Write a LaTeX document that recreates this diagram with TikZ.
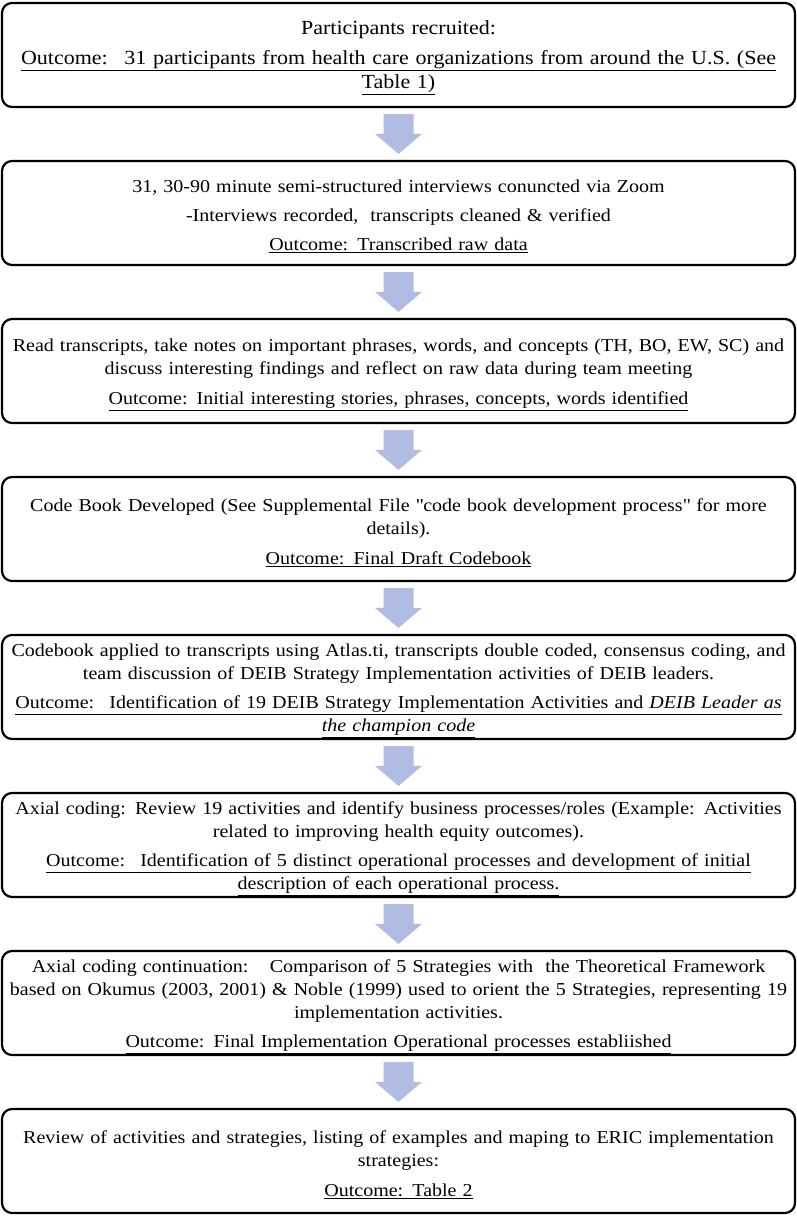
\documentclass[tikz,border=0pt]{standalone}
\usepackage{fontspec}
\setmainfont{Liberation Serif}[FakeStretch=1.1]
\usetikzlibrary{positioning, calc}
\definecolor{flowblue}{RGB}{176,188,226}
\newcommand{\Outcome}[1]{\underline{#1}}
% block arrow from the bottom of one stage to the top of the next
\newcommand{\FlowArrow}[2]{%
  \fill[flowblue] ($(#1.south)+(-15pt,-6pt)$) -- ($(#1.south)+(15pt,-6pt)$)
    -- ($(#2.north)+(15pt,26pt)$) -- ($(#2.north)+(23.5pt,26pt)$)
    -- ($(#2.north)+(0,6pt)$)
    -- ($(#2.north)+(-23.5pt,26pt)$) -- ($(#2.north)+(-15pt,26pt)$) -- cycle;}
\tikzset{
    stage/.style={draw, line width=2.2pt, rounded corners=10pt, minimum width=793pt,
      minimum height=104pt, text width=788pt, align=center, inner sep=0pt,
      font=\fontsize{18.2}{23}\selectfont, execute at begin node={\rule{0pt}{20pt}}},
    bigstage/.style={stage, font=\fontsize{20}{24}\selectfont},
}

\begin{document}
\begin{tikzpicture}
    \tikzset{node distance=51.8pt}
    \useasboundingbox (0,0) rectangle (797pt,-1216pt);

    \node[bigstage] (recruit) at (398.5pt,-55pt) {Participants recruited:\\[6pt]
      \Outcome{Outcome:~ 31 participants from health care organizations from around the U.S. (See}\\
      \Outcome{Table 1)}};
    \node[stage, below=of recruit] (interview) {31, 30-90 minute semi-structured interviews conuncted via Zoom\\[6pt]
      -Interviews recorded,~ transcripts cleaned \& verified\\[6pt]
      \Outcome{Outcome: Transcribed raw data}};
    \node[stage, below=of interview] (notes) {Read transcripts, take notes on important phrases, words, and concepts (TH, BO, EW, SC) and\\
      discuss interesting findings and reflect on raw data during team meeting\\[7pt]
      \Outcome{Outcome: Initial interesting stories, phrases, concepts, words identified}};
    \node[stage, below=of notes] (codebook) {Code Book Developed (See Supplemental File \textquotedbl code book development process\textquotedbl{} for more\\
      details).\\[7pt]
      \Outcome{Outcome: Final Draft Codebook}};
    \node[stage, below=of codebook] (coding) {Codebook applied to transcripts using Atlas.ti, transcripts double coded, consensus coding, and\\
      team discussion of DEIB Strategy Implementation activities of DEIB leaders.\\[6pt]
      \Outcome{Outcome:~ Identification of 19 DEIB Strategy Implementation Activities and \textit{DEIB Leader as}}\\
      \Outcome{\textit{the champion code}}};
    \node[stage, below=of coding] (axial) {Axial coding: Review 19 activities and identify business processes/roles (Example: Activities\\
      related to improving health equity outcomes).\\[6pt]
      \Outcome{Outcome:~ Identification of 5 distinct operational processes and development of initial}\\
      \Outcome{description of each operational process.}};
    \node[stage, below=of axial] (framework) {Axial coding continuation:~~ Comparison of 5 Strategies with~ the Theoretical Framework\\
      based on Okumus (2003, 2001) \& Noble (1999) used to orient the 5 Strategies, representing 19\\
      implementation activities.\\[6pt]
      \Outcome{Outcome: Final Implementation Operational processes establiished}};
    \node[stage, below=of framework] (review) {Review of activities and strategies, listing of examples and maping to ERIC implementation\\
      strategies:\\[7pt]
      \Outcome{Outcome: Table 2}};

    \FlowArrow{recruit}{interview}
    \FlowArrow{interview}{notes}
    \FlowArrow{notes}{codebook}
    \FlowArrow{codebook}{coding}
    \FlowArrow{coding}{axial}
    \FlowArrow{axial}{framework}
    \FlowArrow{framework}{review}
\end{tikzpicture}
\end{document}
